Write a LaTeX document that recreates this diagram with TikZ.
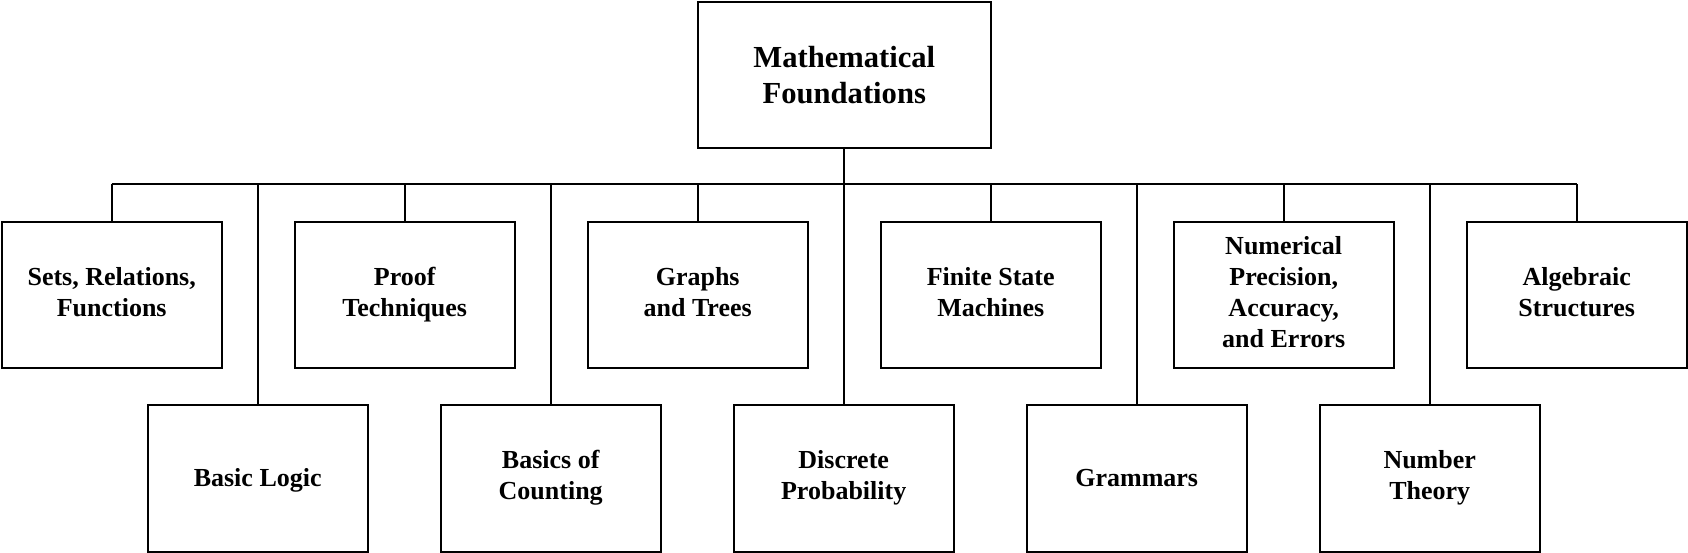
\documentclass[tikz,border=0pt]{standalone}
\usepackage{fontspec}
\setmainfont{Liberation Serif}
\begin{document}
\begin{tikzpicture}[x=1pt,y=-1pt,
  basebox/.style={draw,line width=2pt,inner sep=0pt,align=center},
  box/.style={basebox,minimum width=220pt,minimum height=146.5pt,
    execute at begin node={\rule{0pt}{21.6pt}},
    execute at end node={\rule[-6pt]{0pt}{0pt}},
    font=\fontsize{26}{31}\selectfont\bfseries},
  rootbox/.style={basebox,minimum width=293.5pt,minimum height=146pt,
    font=\fontsize{30.6}{36.5}\selectfont\bfseries},
  link/.style={line width=2pt}]
\useasboundingbox (0,0) rectangle (1688,553);
\node[rootbox] (root) at (844.3,75.3) {Mathematical\\Foundations};
% top row
\node[box] (c1) at (111.7,295) {Sets, Relations,\\Functions};
\node[box] (c2) at (404.7,295) {Proof\\Techniques};
\node[box] (c3) at (697.7,295) {Graphs\\and Trees};
\node[box] (c4) at (990.7,295) {Finite State\\Machines};
\node[box] (c5) at (1283.7,295) {Numerical\\Precision,\\Accuracy,\\and Errors};
\node[box] (c6) at (1576.7,295) {Algebraic\\Structures};
% bottom row
\node[box] (d1) at (257.7,478.3) {Basic Logic};
\node[box] (d2) at (550.7,478.3) {Basics of\\Counting};
\node[box] (d3) at (843.7,478.3) {Discrete\\Probability};
\node[box] (d4) at (1136.7,478.3) {Grammars};
\node[box] (d5) at (1429.7,478.3) {Number\\Theory};
% bus
\coordinate (busy) at (0,184);
\coordinate (busL) at (c1.north |- busy);
\coordinate (busR) at (c6.north |- busy);
\draw[link] (busL) -- (busR);
\draw[link] (root.south) -- (root.south |- busy);
\foreach \n in {c1,c2,c3,c4,c5,c6,d1,d2,d3,d4,d5}
  \draw[link] (\n.north) -- (\n.north |- busy);
\end{tikzpicture}
\end{document}
